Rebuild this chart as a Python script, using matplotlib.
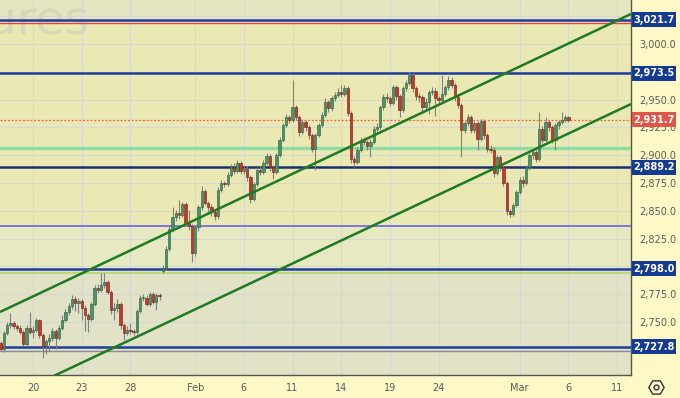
import matplotlib
matplotlib.use('Agg')
import matplotlib.pyplot as plt
from matplotlib.patches import Rectangle
from matplotlib.lines import Line2D
from matplotlib.ticker import FuncFormatter

# ---------------- data ----------------
opens = [2731, 2726, 2740, 2747, 2749, 2746, 2745, 2741, 2730, 2745,
         2741, 2743, 2752, 2738, 2728, 2733, 2736, 2742, 2736, 2745,
         2752, 2759, 2764, 2771, 2767, 2769, 2763, 2756, 2753, 2766,
         2781, 2779, 2783, 2786, 2777, 2761, 2763, 2766, 2747, 2740,
         2743, 2742, 2741, 2760, 2772, 2772, 2766, 2775, 2768, 2774,
         2796, 2799, 2816, 2834, 2844, 2848, 2846, 2856, 2839, 2836,
         2812, 2835, 2853, 2868, 2857, 2853, 2849, 2845, 2869, 2875,
         2874, 2882, 2889, 2886, 2893, 2886, 2888, 2880, 2861, 2874,
         2887, 2885, 2893, 2899, 2889, 2885, 2900, 2914, 2927, 2934,
         2932, 2943, 2934, 2921, 2930, 2925, 2918, 2906, 2918, 2927,
         2936, 2948, 2942, 2951, 2954, 2957, 2955, 2960, 2938, 2897,
         2894, 2905, 2913, 2912, 2908, 2912, 2924, 2925, 2943, 2952,
         2951, 2947, 2961, 2953, 2941, 2960, 2965, 2972, 2960, 2953,
         2952, 2943, 2948, 2957, 2958, 2951, 2950, 2955, 2961, 2968,
         2963, 2952, 2945, 2923, 2929, 2934, 2923, 2929, 2915, 2931,
         2918, 2906, 2905, 2884, 2898, 2889, 2875, 2850, 2847, 2855,
         2867, 2878, 2875, 2889, 2900, 2903, 2897, 2924, 2914, 2930,
         2925, 2914, 2927, 2930, 2932, 2934]
closes = [2726, 2740, 2747, 2749, 2746, 2745, 2741, 2730, 2745, 2741,
          2743, 2752, 2738, 2728, 2733, 2736, 2742, 2736, 2745, 2752,
          2759, 2764, 2771, 2767, 2769, 2763, 2756, 2753, 2766, 2781,
          2779, 2783, 2786, 2777, 2761, 2763, 2766, 2747, 2740, 2743,
          2742, 2741, 2760, 2772, 2772, 2766, 2775, 2768, 2774, 2773,
          2799, 2816, 2834, 2844, 2848, 2846, 2856, 2839, 2836, 2812,
          2835, 2853, 2868, 2857, 2853, 2849, 2845, 2869, 2875, 2874,
          2882, 2889, 2886, 2893, 2886, 2888, 2880, 2861, 2874, 2887,
          2885, 2893, 2899, 2889, 2885, 2900, 2914, 2927, 2934, 2932,
          2943, 2934, 2921, 2930, 2925, 2918, 2906, 2918, 2927, 2936,
          2948, 2942, 2951, 2954, 2957, 2955, 2960, 2938, 2897, 2894,
          2905, 2913, 2912, 2908, 2912, 2924, 2925, 2943, 2952, 2951,
          2947, 2961, 2953, 2941, 2960, 2965, 2972, 2960, 2953, 2952,
          2943, 2948, 2957, 2958, 2951, 2950, 2955, 2961, 2968, 2963,
          2952, 2945, 2923, 2929, 2934, 2923, 2929, 2915, 2931, 2918,
          2906, 2905, 2884, 2898, 2889, 2875, 2850, 2847, 2855, 2867,
          2878, 2875, 2889, 2900, 2903, 2897, 2924, 2914, 2930, 2925,
          2914, 2927, 2930, 2932, 2934, 2931.7]
highs = [2733, 2742, 2750, 2758, 2751, 2748, 2747, 2743, 2747, 2759,
         2746, 2754, 2753, 2740, 2735, 2739, 2745, 2744, 2747, 2756,
         2762, 2767, 2774, 2773, 2772, 2771, 2765, 2758, 2768, 2783,
         2784, 2794, 2794, 2788, 2779, 2767, 2771, 2768, 2749, 2746,
         2749, 2744, 2762, 2774, 2775, 2774, 2777, 2777, 2776, 2776,
         2801, 2818, 2836, 2853, 2851, 2860, 2858, 2858, 2851, 2838,
         2837, 2855, 2872, 2870, 2859, 2856, 2851, 2871, 2878, 2877,
         2885, 2892, 2893, 2896, 2895, 2891, 2890, 2882, 2876, 2889,
         2890, 2896, 2902, 2901, 2891, 2902, 2916, 2929, 2937, 2936,
         2968, 2945, 2936, 2933, 2932, 2927, 2920, 2920, 2929, 2939,
         2951, 2950, 2953, 2957, 2960, 2963, 2963, 2962, 2940, 2899,
         2907, 2916, 2916, 2914, 2915, 2926, 2929, 2945, 2955, 2956,
         2953, 2963, 2963, 2955, 2962, 2968, 2975, 2974, 2962, 2956,
         2954, 2951, 2959, 2961, 2960, 2953, 2972, 2963, 2971, 2970,
         2965, 2954, 2947, 2931, 2937, 2936, 2931, 2931, 2933, 2933,
         2920, 2909, 2907, 2900, 2900, 2891, 2877, 2852, 2857, 2869,
         2880, 2881, 2891, 2902, 2906, 2905, 2939, 2926, 2934, 2932,
         2927, 2929, 2932, 2939, 2936, 2935]
lows = [2724, 2723, 2738, 2745, 2744, 2742, 2739, 2728, 2728, 2739,
        2736, 2741, 2736, 2718, 2721, 2724, 2733, 2726, 2734, 2743,
        2750, 2756, 2762, 2760, 2758, 2752, 2742, 2741, 2751, 2764,
        2776, 2777, 2781, 2775, 2757, 2752, 2759, 2744, 2734, 2738,
        2739, 2738, 2739, 2758, 2769, 2764, 2764, 2766, 2761, 2770,
        2794, 2797, 2814, 2832, 2841, 2843, 2844, 2836, 2833, 2804,
        2809, 2832, 2851, 2855, 2849, 2845, 2842, 2843, 2867, 2871,
        2872, 2880, 2883, 2884, 2883, 2883, 2877, 2857, 2859, 2872,
        2882, 2883, 2891, 2886, 2879, 2883, 2898, 2912, 2925, 2929,
        2930, 2932, 2917, 2919, 2922, 2915, 2903, 2887, 2916, 2925,
        2934, 2939, 2940, 2949, 2952, 2952, 2953, 2935, 2893, 2889,
        2892, 2903, 2909, 2905, 2898, 2910, 2921, 2923, 2941, 2948,
        2944, 2945, 2950, 2934, 2939, 2958, 2963, 2957, 2950, 2948,
        2938, 2940, 2937, 2954, 2935, 2946, 2948, 2953, 2959, 2960,
        2949, 2942, 2898, 2920, 2926, 2920, 2920, 2905, 2913, 2915,
        2903, 2902, 2880, 2882, 2886, 2872, 2846, 2844, 2845, 2853,
        2865, 2871, 2873, 2887, 2897, 2894, 2895, 2911, 2912, 2922,
        2911, 2905, 2924, 2928, 2930, 2930]

tick_bars = [10, 25, 40, 60, 75, 90, 105, 120, 135, 160, 175, 190]
tick_labels = ['20', '23', '28', 'Feb', '6', '11', '14', '19', '24', 'Mar', '6', '11']

level_prices = [3021.7, 3018.5, 2973.5, 2931.7, 2906.5, 2889.2, 2836.5, 2798.0, 2793.8, 2727.8, 2724.2]
level_colors = ['#1f3d99', '#e04848', '#1f3d99', '#f06050', '#8fdca4', '#1a2f70',
                '#7470d8', '#1f3d99', '#b8d870', '#1f3d99', '#8c8c8c']
level_widths = [1.8, 1.0, 1.8, 0.9, 2.4, 1.8, 1.3, 1.8, 1.3, 1.8, 1.0]
level_styles = ['-', '-', '-', (0, (1.5, 1.5)), '-', '-', '-', '-', '-', '-', '-']

label_prices = [3021.7, 2973.5, 2931.7, 2889.2, 2798.0, 2727.8]
label_colors = ['#143a92', '#143a92', '#e0554a', '#143a92', '#143a92', '#143a92']

channel_upper = [(-0.17, 2759.0), (194.3, 3027.0)]
channel_lower = [(-0.17, 2678.7), (194.3, 2946.0)]

# ---------------- figure ----------------
W, H = 680, 398
fig = plt.figure(figsize=(W / 100, H / 100), dpi=100)
fig.patch.set_facecolor('#fdf8c6')
ax = fig.add_axes([0, 23 / H, 631 / W, 375 / H])
ax.set_facecolor('#ebe9b3')
ax.set_xlim(-0.17, 194.3)
ax.set_ylim(2702.34, 3039.57)

# background zones
ax.axhspan(3021.7, 3100, color='#e3e6c0', zorder=0.1, lw=0)
ax.axhspan(2798.0, 2836.5, color='#e6e9c1', zorder=0.1, lw=0)
ax.axhspan(2600, 2798.0, color='#e2e2c7', zorder=0.1, lw=0)

# grid
ax.set_yticks(list(range(2725, 3026, 25)))
ax.set_xticks(tick_bars)
ax.set_xticklabels(tick_labels)
ax.grid(True, color='#d5d9d2', lw=0.8)
ax.set_axisbelow(True)

def yfmt(v, pos):
    if int(round(v)) in (3025, 2975, 2800, 2725):
        return ''
    return '{:,.1f}'.format(v)

ax.yaxis.set_major_formatter(FuncFormatter(yfmt))
ax.yaxis.tick_right()
ax.tick_params(axis='y', length=0, pad=6, labelsize=7, labelcolor='#5a5a5a')
ax.tick_params(axis='x', length=0, pad=6, labelsize=7, labelcolor='#5a5a5a')
for s in ('left', 'top'):
    ax.spines[s].set_visible(False)
for s in ('right', 'bottom'):
    ax.spines[s].set_color('#555555')
    ax.spines[s].set_linewidth(1.0)

# watermark
ax.text(27.3, 3009.5, 'Futures', ha='right', va='baseline', fontsize=34,
        color='#d8d8b4', zorder=0.3, clip_on=True)

# horizontal levels
for p, c, w, st in zip(level_prices, level_colors, level_widths, level_styles):
    ax.axhline(p, color=c, lw=w, ls=st, zorder=3)

# candles
xs = list(range(len(closes)))
for i in xs:
    o, c, hi, lo = opens[i], closes[i], highs[i], lows[i]
    up = c >= o
    ax.vlines(i, lo, hi, color='#808080', lw=0.8, zorder=3.6)
    bottom = min(o, c)
    height = max(abs(c - o), 0.8)
    ax.bar(i, height, bottom=bottom, width=0.72,
           color='#4a946a' if up else '#c9372b',
           edgecolor='#2a5a3b' if up else '#6a1c14', linewidth=0.4, zorder=4)

# channel lines
for seg in (channel_upper, channel_lower):
    ax.plot([seg[0][0], seg[1][0]], [seg[0][1], seg[1][1]], color='#1f7a22', lw=1.8,
            zorder=5, solid_capstyle='butt')

# price label boxes
fig.canvas.draw()
for p, col in zip(label_prices, label_colors):
    yd = ax.transData.transform((0, p))[1]
    fig.add_artist(Rectangle((632 / W, (yd - 7.5) / H), 44 / W, 15 / H,
                             transform=fig.transFigure, facecolor=col, edgecolor='none', zorder=10))
    fig.text(654 / W, yd / H, '{:,.1f}'.format(p), ha='center', va='center',
             color='white', fontsize=7, fontweight='bold', zorder=11)

# settings icon
fig.add_artist(Line2D([656 / W], [1 - 387 / H], transform=fig.transFigure, marker='H',
                      ms=11, mfc='none', mec='#333333', mew=1.0))
fig.add_artist(Line2D([656 / W], [1 - 387 / H], transform=fig.transFigure, marker='o',
                      ms=3.5, mfc='none', mec='#333333', mew=1.0))

fig.savefig('out.png', dpi=100, facecolor=fig.get_facecolor())
